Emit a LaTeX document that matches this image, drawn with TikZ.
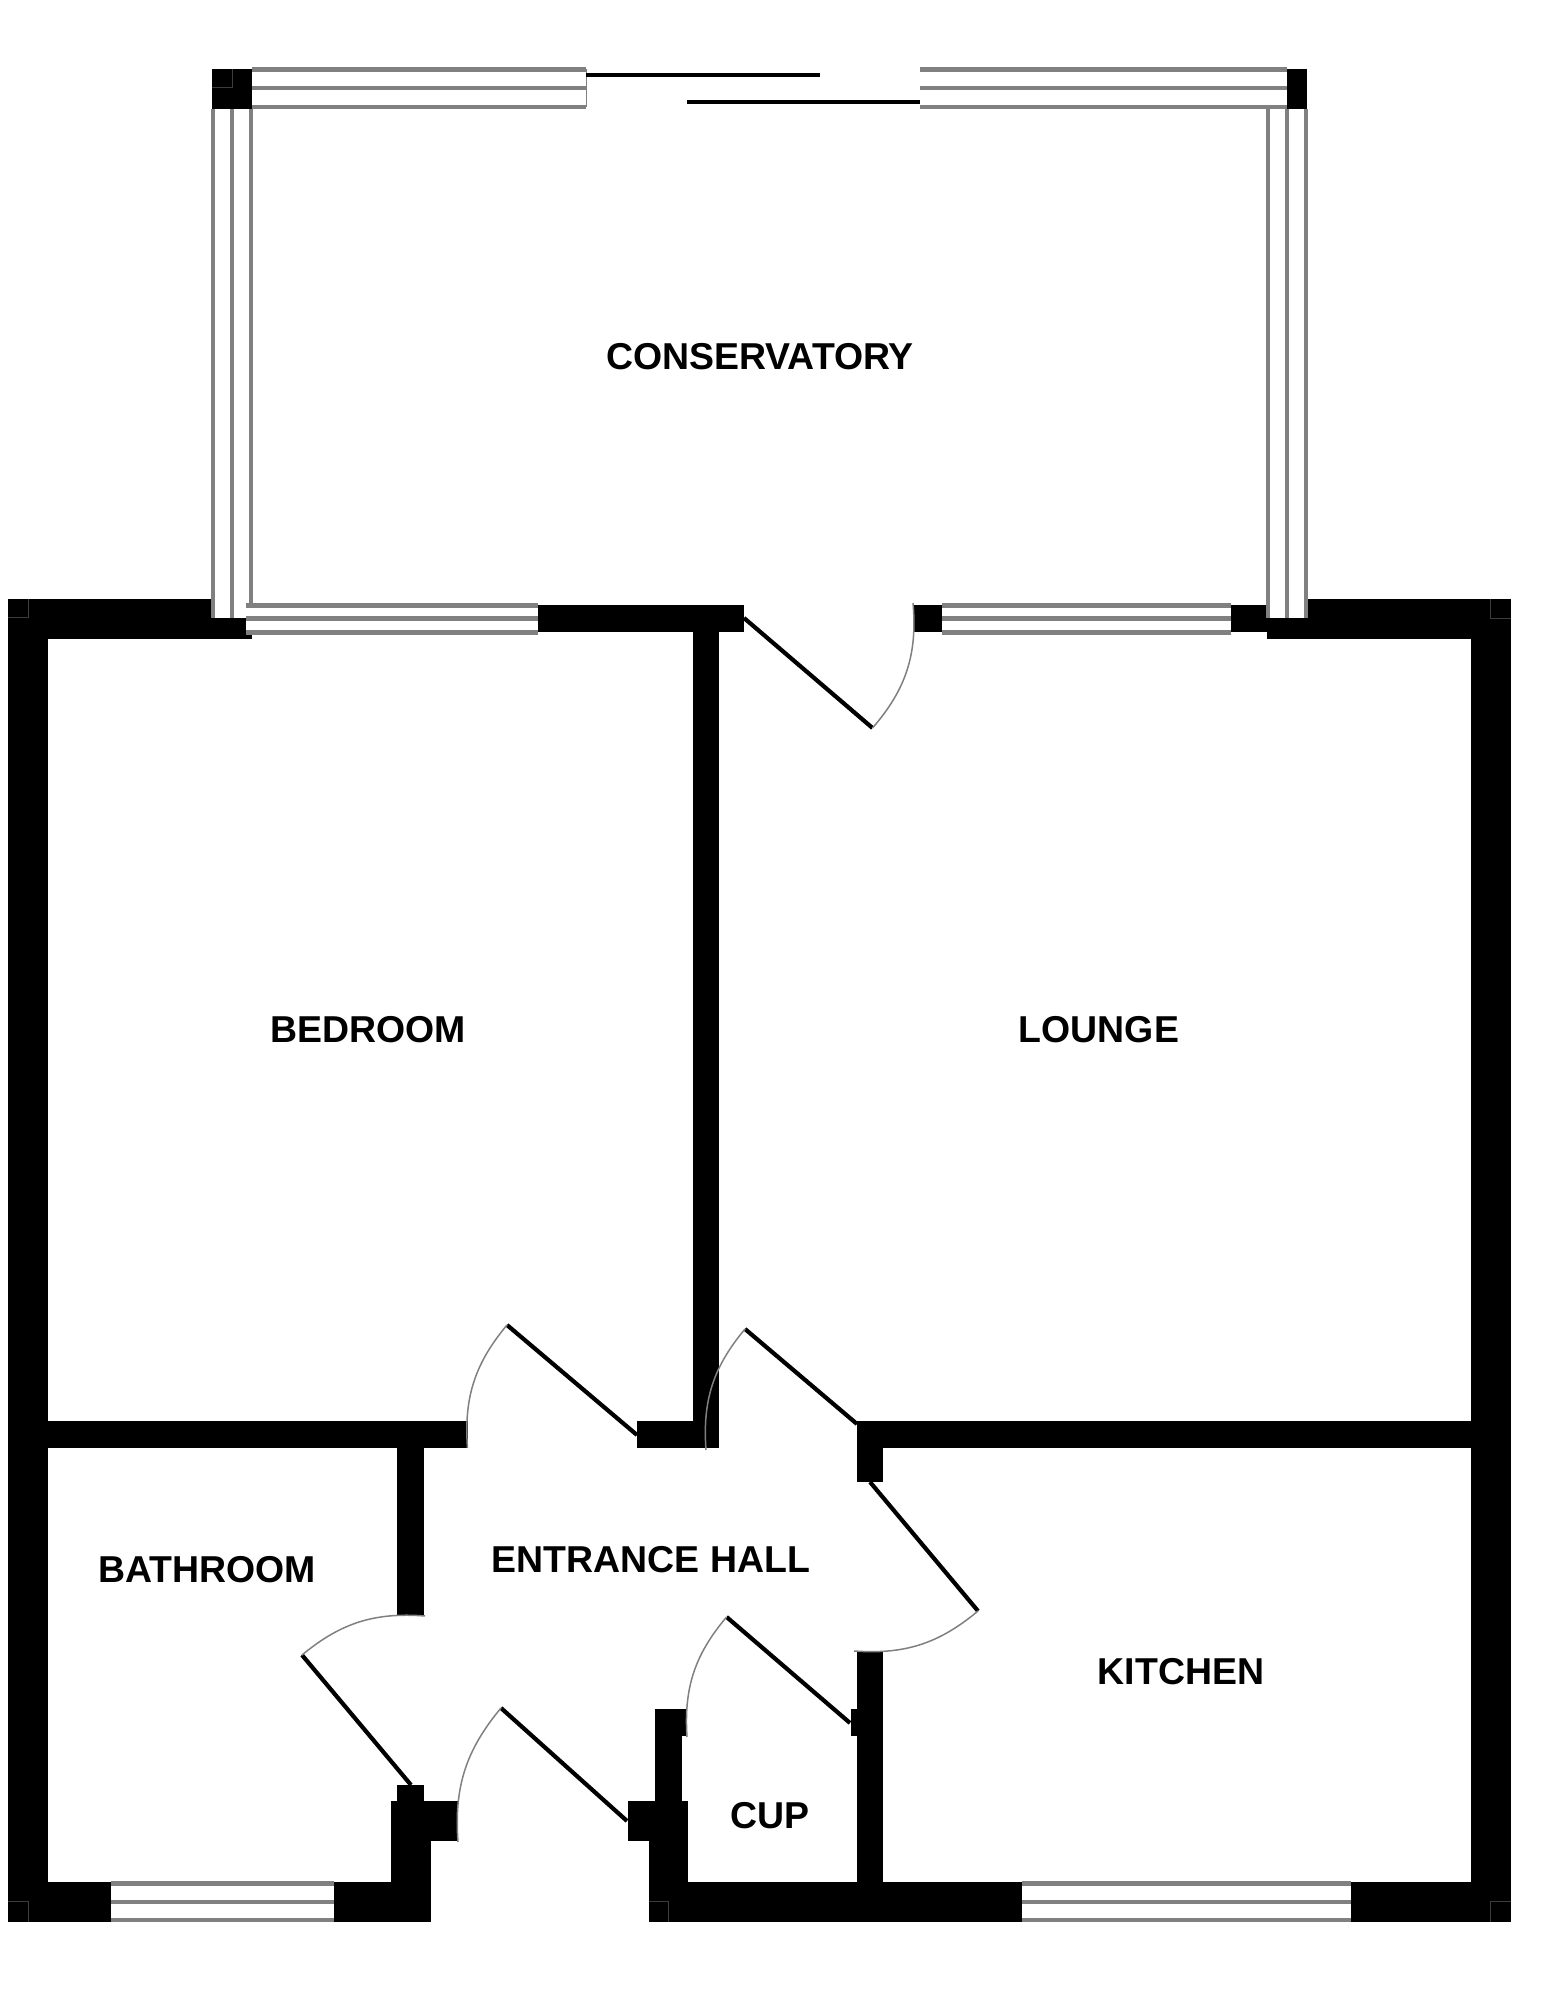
\documentclass[tikz,border=0pt]{standalone}
\usepackage{fontspec}
\setmainfont{Liberation Sans}
\definecolor{glazegray}{HTML}{808080}
\definecolor{seamgray}{HTML}{3C3C3C}
\tikzset{
  wall/.style={fill=black},
  glazing/.style={line width=0.048cm,color=glazegray},
  glazeend/.style={line width=0.01cm,color=glazegray},
  slider/.style={line width=0.04cm,color=black},
  leaf/.style={line width=0.042cm,color=black},
  swing/.style={line width=0.015cm,color=glazegray},
  seam/.style={line width=0.01cm,color=seamgray},
  roomlabel/.style={inner sep=0pt,font=\fontsize{10.65pt}{12pt}\selectfont\bfseries}
}
\begin{document}
\begin{tikzpicture}
        \useasboundingbox (0,0) rectangle (15.68,20.00);

        % Outer walls
        \fill [wall] (0.08,14.01) rectangle (2.11,13.61);%
        \fill [wall] (2.11,13.82) rectangle (2.46,13.61);%
        \fill [wall] (2.46,13.66) rectangle (2.52,13.61);%
        \fill [wall] (0.08,14.01) rectangle (0.48,0.78);%
        \fill [wall] (13.07,14.01) rectangle (15.105,13.61);%
        \fill [wall] (12.665,13.815) rectangle (13.07,13.61);%
        \fill [wall] (14.705,14.01) rectangle (15.105,0.78);%
        \fill [wall] (0.08,1.18) rectangle (1.107,0.78);%
        \fill [wall] (3.34,1.18) rectangle (4.305,0.78);%
        \fill [wall] (6.485,1.18) rectangle (10.217,0.78);%
        \fill [wall] (13.507,1.18) rectangle (15.105,0.78);%

        % Wall pieces beside the conservatory openings
        \fill [wall] (5.375,13.945) rectangle (7.44,13.68);%
        \fill [wall] (9.13,13.945) rectangle (9.42,13.68);%
        \fill [wall] (12.31,13.945) rectangle (12.665,13.68);%

        % Corner blocks of the conservatory
        \fill [wall] (2.12,19.31) rectangle (2.52,18.91);%
        \fill [wall] (12.87,19.31) rectangle (13.07,18.91);%

        % Inner walls
        \fill [wall] (6.93,13.68) rectangle (7.19,5.52);%
        \fill [wall] (0.48,5.79) rectangle (4.675,5.52);%
        \fill [wall] (6.37,5.79) rectangle (7.19,5.52);%
        \fill [wall] (8.57,5.79) rectangle (14.705,5.52);%
        \fill [wall] (8.57,5.79) rectangle (8.83,5.18);%
        \fill [wall] (3.97,5.52) rectangle (4.24,3.84);%
        \fill [wall] (8.57,3.49) rectangle (8.83,0.78);%
        \fill [wall] (8.51,2.91) rectangle (8.57,2.64);%

        % Wall pieces at the front door
        \fill [wall] (3.97,2.15) rectangle (4.24,1.99);%
        \fill [wall] (3.906,1.99) rectangle (4.58,1.59);%
        \fill [wall] (3.906,1.59) rectangle (4.305,0.78);%
        \fill [wall] (6.275,1.99) rectangle (6.88,1.59);%
        \fill [wall] (6.55,2.91) rectangle (6.82,1.99);%
        \fill [wall] (6.82,2.91) rectangle (6.87,2.64);%
        \fill [wall] (6.485,1.59) rectangle (6.88,0.78);%

        % Seams left in the wall corners
        \draw [seam] (0.08,13.82) -| (0.28,14.01);%
        \draw [seam] (14.907,14.01) |- (15.105,13.81);%
        \draw [seam] (0.08,0.98) -| (0.28,0.78);%
        \draw [seam] (14.90,0.78) |- (15.105,0.98);%
        \draw [seam] (6.485,0.98) -| (6.687,0.78);%
        \draw [seam] (2.12,19.12) -| (2.32,19.31);%

        % Drawing conservatory top windows
        \draw [glazing] (2.52,19.305) -- (5.86,19.305);%
        \draw [glazing] (2.52,19.12) -- (5.86,19.12);%
        \draw [glazing] (2.52,18.93) -- (5.86,18.93);%
        \draw [glazeend] (5.86,19.305) -- (5.86,18.93);%
        \draw [glazing] (9.20,19.305) -- (12.87,19.305);%
        \draw [glazing] (9.20,19.12) -- (12.87,19.12);%
        \draw [glazing] (9.20,18.93) -- (12.87,18.93);%

        % Drawing sliding door
        \draw [slider] (5.86,19.25) -- (8.20,19.25);%
        \draw [slider] (6.87,18.98) -- (9.20,18.98);%

        % Drawing conservatory side windows
        \draw [glazing] (2.13,18.91) -- (2.13,13.82);%
        \draw [glazing] (2.32,18.91) -- (2.32,13.82);%
        \draw [glazing] (2.51,18.91) -- (2.51,13.95);%
        \draw [glazing] (12.68,18.91) -- (12.68,13.815);%
        \draw [glazing] (12.87,18.91) -- (12.87,13.815);%
        \draw [glazing] (13.06,18.91) -- (13.06,13.815);%

        % Drawing bedroom window
        \draw [glazing] (2.46,13.947) -- (5.375,13.947);%
        \draw [glazing] (2.46,13.817) -- (5.375,13.817);%
        \draw [glazing] (2.46,13.677) -- (5.375,13.677);%

        % Drawing lounge window
        \draw [glazing] (9.42,13.947) -- (12.31,13.947);%
        \draw [glazing] (9.42,13.817) -- (12.31,13.817);%
        \draw [glazing] (9.42,13.677) -- (12.31,13.677);%

        % Drawing bathroom window
        \draw [glazing] (1.107,1.165) -- (3.34,1.165);%
        \draw [glazing] (1.107,0.98) -- (3.34,0.98);%
        \draw [glazing] (1.107,0.80) -- (3.34,0.80);%

        % Drawing kitchen window
        \draw [glazing] (10.217,1.165) -- (13.507,1.165);%
        \draw [glazing] (10.217,0.98) -- (13.507,0.98);%
        \draw [glazing] (10.217,0.80) -- (13.507,0.80);%

        % Drawing door to conservatory
        \draw [leaf] (7.44,13.82) -- (8.725,12.72);%
        \draw [swing] (8.725,12.72) to [bend right=23] (9.13,13.97);%

        % Drawing bedroom door
        \draw [leaf] (6.37,5.65) -- (5.07,6.75);%
        \draw [swing] (5.07,6.75) to [bend right=22] (4.675,5.52);%

        % Drawing lounge door
        \draw [leaf] (8.57,5.76) -- (7.45,6.71);%
        \draw [swing] (7.45,6.71) to [bend right=22] (7.06,5.50);%

        % Drawing kitchen door
        \draw [leaf] (8.70,5.18) -- (9.78,3.89);%
        \draw [swing] (9.78,3.89) to [bend left=22] (8.54,3.49);%

        % Drawing cupboard door
        \draw [leaf] (8.50,2.77) -- (7.266,3.83);%
        \draw [swing] (7.266,3.83) to [bend right=22] (6.87,2.63);%

        % Drawing bathroom door
        \draw [leaf] (4.11,2.15) -- (3.02,3.45);%
        \draw [swing] (3.02,3.45) to [bend left=22] (4.25,3.84);%

        % Drawing front door
        \draw [leaf] (6.27,1.79) -- (5.01,2.92);%
        \draw [swing] (5.01,2.92) to [bend right=22] (4.58,1.58);%

        % Room names
        \node [roomlabel] (conservatory) at (7.60,16.43) {CONSERVATORY};%
        \node [roomlabel] (bedroom) at (3.68,9.70) {BEDROOM};%
        \node [roomlabel] (lounge) at (10.99,9.70) {LOUNGE};%
        \node [roomlabel] (bathroom) at (2.07,4.30) {BATHROOM};%
        \node [roomlabel] (hall) at (6.51,4.40) {ENTRANCE HALL};%
        \node [roomlabel] (kitchen) at (11.81,3.28) {KITCHEN};%
        \node [roomlabel] (cupboard) at (7.70,1.84) {CUP};%
    \end{tikzpicture}
\end{document}
